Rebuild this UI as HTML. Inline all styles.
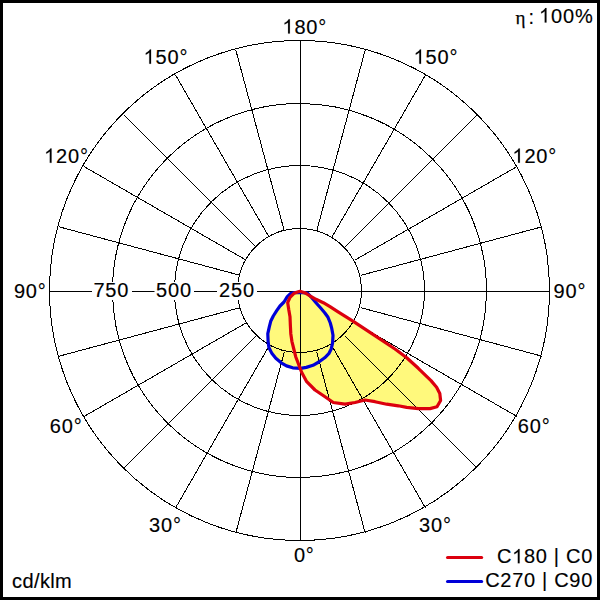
<!DOCTYPE html>
<html><head><meta charset="utf-8"><style>
html,body{margin:0;padding:0;background:#fff;}
body{width:600px;height:600px;overflow:hidden;}
svg{display:block;}
text{font-family:"Liberation Sans",sans-serif;font-size:20px;fill:#000;letter-spacing:0.85px;stroke:#000;stroke-width:0.15px;}
tspan.h{fill-opacity:0;stroke-opacity:0;}

</style></head><body>
<svg width="600" height="600" viewBox="0 0 600 600">
<rect x="0" y="0" width="600" height="600" fill="#000"/>
<rect x="3" y="3" width="594" height="594" fill="#fff"/>
<path d="M300.0,292.3 L307.5,293.2 L312.0,298.0 L316.0,302.7 L320.7,308.0 L324.7,312.7 L328.0,317.3 L330.3,323.0 L331.8,328.7 L333.0,335.3 L332.6,342.8 L331.3,348.7 L328.8,353.7 L324.7,357.8 L318.8,362.0 L313.0,365.3 L306.3,367.4 L300.5,368.3 L292.7,367.8 L286.5,365.9 L281.2,362.8 L275.8,358.2 L272.0,353.6 L268.9,347.5 L268.1,341.3 L267.8,333.7 L269.3,326.8 L270.7,321.3 L273.3,316.0 L276.7,310.7 L280.0,306.0 L284.0,302.0 L287.3,296.7 L290.7,293.5 L294.5,292.6 Z" fill="#fff97c" stroke="none"/>
<path d="M300.0,291.3 L304.7,292.7 L310.0,296.0 L316.0,299.3 L323.3,302.7 L330.0,306.7 L337.3,311.3 L353.3,321.3 L373.0,334.3 L395.0,349.0 L406.7,357.8 L418.3,368.3 L431.0,380.6 L436.6,387.2 L439.8,393.5 L440.6,400.5 L437.0,406.8 L430.0,408.6 L418.3,408.6 L406.7,407.4 L398.3,405.8 L386.7,404.2 L375.0,401.7 L365.0,400.0 L355.0,402.5 L345.0,404.2 L333.3,402.5 L325.0,396.7 L315.0,390.0 L306.7,381.7 L301.5,372.0 L298.0,362.8 L295.7,356.7 L293.8,349.0 L291.9,341.3 L290.8,333.7 L290.4,326.0 L290.0,316.7 L288.7,309.3 L287.7,302.7 L290.0,297.3 L294.0,293.3 Z" fill="#fff97c" stroke="none"/>
<g stroke="#000" stroke-width="1" fill="none" shape-rendering="crispEdges">
<circle cx="299.5" cy="290.5" r="62"/><circle cx="299.5" cy="290.5" r="125"/><circle cx="299.5" cy="290.5" r="187"/><circle cx="299.5" cy="290.5" r="250"/>
<line x1="316.68" y1="351.87" x2="365.20" y2="532.98"/><line x1="331.75" y1="345.63" x2="425.50" y2="508.01"/><line x1="344.69" y1="335.69" x2="477.28" y2="468.28"/><line x1="354.63" y1="322.75" x2="517.01" y2="416.50"/><line x1="360.87" y1="307.68" x2="541.98" y2="356.20"/><line x1="360.87" y1="275.32" x2="541.98" y2="226.80"/><line x1="354.63" y1="260.25" x2="517.01" y2="166.50"/><line x1="344.69" y1="247.31" x2="477.28" y2="114.72"/><line x1="331.75" y1="237.37" x2="425.50" y2="74.99"/><line x1="316.68" y1="231.13" x2="365.20" y2="50.02"/><line x1="284.32" y1="231.13" x2="235.80" y2="50.02"/><line x1="269.25" y1="237.37" x2="175.50" y2="74.99"/><line x1="256.31" y1="247.31" x2="123.72" y2="114.72"/><line x1="246.37" y1="260.25" x2="83.99" y2="166.50"/><line x1="240.13" y1="275.32" x2="59.02" y2="226.80"/><line x1="240.13" y1="307.68" x2="59.02" y2="356.20"/><line x1="246.37" y1="322.75" x2="83.99" y2="416.50"/><line x1="256.31" y1="335.69" x2="123.72" y2="468.28"/><line x1="269.25" y1="345.63" x2="175.50" y2="508.01"/><line x1="284.32" y1="351.87" x2="235.80" y2="532.98"/>
<line x1="49" y1="291.5" x2="550" y2="291.5"/>
<line x1="300.5" y1="40" x2="300.5" y2="541"/>
</g>
<g fill="#fff">
<rect x="92" y="282" width="40" height="18"/>
<rect x="154.5" y="282" width="39.5" height="18"/>
<rect x="217" y="282" width="40" height="18"/>
</g>
<path d="M300.0,292.3 L307.5,293.2 L312.0,298.0 L316.0,302.7 L320.7,308.0 L324.7,312.7 L328.0,317.3 L330.3,323.0 L331.8,328.7 L333.0,335.3 L332.6,342.8 L331.3,348.7 L328.8,353.7 L324.7,357.8 L318.8,362.0 L313.0,365.3 L306.3,367.4 L300.5,368.3 L292.7,367.8 L286.5,365.9 L281.2,362.8 L275.8,358.2 L272.0,353.6 L268.9,347.5 L268.1,341.3 L267.8,333.7 L269.3,326.8 L270.7,321.3 L273.3,316.0 L276.7,310.7 L280.0,306.0 L284.0,302.0 L287.3,296.7 L290.7,293.5 L294.5,292.6 Z" fill="none" stroke="#0000d8" stroke-width="3.2" stroke-linejoin="round"/>
<path d="M300.0,291.3 L304.7,292.7 L310.0,296.0 L316.0,299.3 L323.3,302.7 L330.0,306.7 L337.3,311.3 L353.3,321.3 L373.0,334.3 L395.0,349.0 L406.7,357.8 L418.3,368.3 L431.0,380.6 L436.6,387.2 L439.8,393.5 L440.6,400.5 L437.0,406.8 L430.0,408.6 L418.3,408.6 L406.7,407.4 L398.3,405.8 L386.7,404.2 L375.0,401.7 L365.0,400.0 L355.0,402.5 L345.0,404.2 L333.3,402.5 L325.0,396.7 L315.0,390.0 L306.7,381.7 L301.5,372.0 L298.0,362.8 L295.7,356.7 L293.8,349.0 L291.9,341.3 L290.8,333.7 L290.4,326.0 L290.0,316.7 L288.7,309.3 L287.7,302.7 L290.0,297.3 L294.0,293.3 Z" fill="none" stroke="#dc000e" stroke-width="3.2" stroke-linejoin="round"/>
<text x="282.4" y="33.6"><tspan class=h>1</tspan>80°</text><text x="143.6" y="63.8"><tspan class=h>1</tspan>50°</text><text x="413.6" y="63.8"><tspan class=h>1</tspan>50°</text><text x="44.1" y="162.8"><tspan class=h>1</tspan>20°</text><text x="512.4" y="162.8"><tspan class=h>1</tspan>20°</text><text x="13.9" y="297.6">90°</text><text x="553.6" y="297.6">90°</text><text x="49.7" y="432.8">60°</text><text x="517.7" y="432.8">60°</text><text x="149.1" y="531.8">30°</text><text x="419.1" y="531.8">30°</text><text x="293.9" y="561.8">0°</text>
<text x="93.4" y="297.3">750</text>
<text x="156.1" y="297.3">500</text>
<text x="219.1" y="297.3">250</text>
<text x="593.6" y="22.5" text-anchor="end"><tspan class="h">1</tspan>00%</text>
<text x="515.6" y="23.6" style="font-family:'Liberation Serif',serif;stroke-width:0.25px;font-size:19px">η</text><text x="528.5" y="24.3">:</text>
<text x="12" y="587.5" style="letter-spacing:0.4px">cd/klm</text>
<line x1="447.6" y1="557.5" x2="481.6" y2="557.5" stroke="#dc000e" stroke-width="3.2" stroke-linecap="round"/>
<line x1="447.6" y1="581.5" x2="481.6" y2="581.5" stroke="#0000d8" stroke-width="3.2" stroke-linecap="round"/>
<text x="593" y="563.3" text-anchor="end" style="letter-spacing:0.7px">C<tspan class="h">1</tspan>80 | C0</text>
<text x="593" y="587.3" text-anchor="end" style="letter-spacing:0.7px">C270 | C90</text>
<g fill="#000" stroke="#000" stroke-width="0.15"><path d="M289.85,33.60 H288.09 V22.40 Q287.46,23.00 286.42,23.61 T284.57,24.52 V22.82 Q286.03,22.13 287.13,21.14 T288.68,19.22 H289.85 Z"/><path d="M151.05,63.80 H149.29 V52.60 Q148.66,53.20 147.62,53.81 T145.77,54.72 V53.02 Q147.23,52.33 148.33,51.34 T149.88,49.42 H151.05 Z"/><path d="M421.05,63.80 H419.29 V52.60 Q418.66,53.20 417.62,53.81 T415.77,54.72 V53.02 Q417.23,52.33 418.33,51.34 T419.88,49.42 H421.05 Z"/><path d="M51.55,162.80 H49.79 V151.60 Q49.16,152.20 48.12,152.81 T46.27,153.72 V152.02 Q47.73,151.33 48.83,150.34 T50.38,148.43 H51.55 Z"/><path d="M519.85,162.80 H518.09 V151.60 Q517.46,152.20 516.42,152.81 T514.57,153.72 V152.02 Q516.03,151.33 517.13,150.34 T518.68,148.43 H519.85 Z"/><path d="M546.47,22.50 H544.72 V11.30 Q544.08,11.90 543.05,12.51 T541.19,13.42 V11.72 Q542.65,11.03 543.75,10.04 T545.30,8.12 H546.47 Z"/><path d="M519.59,563.30 H517.83 V552.10 Q517.20,552.70 516.16,553.31 T514.31,554.22 V552.52 Q515.77,551.83 516.87,550.84 T518.42,548.92 H519.59 Z"/></g></svg>
</body></html>
